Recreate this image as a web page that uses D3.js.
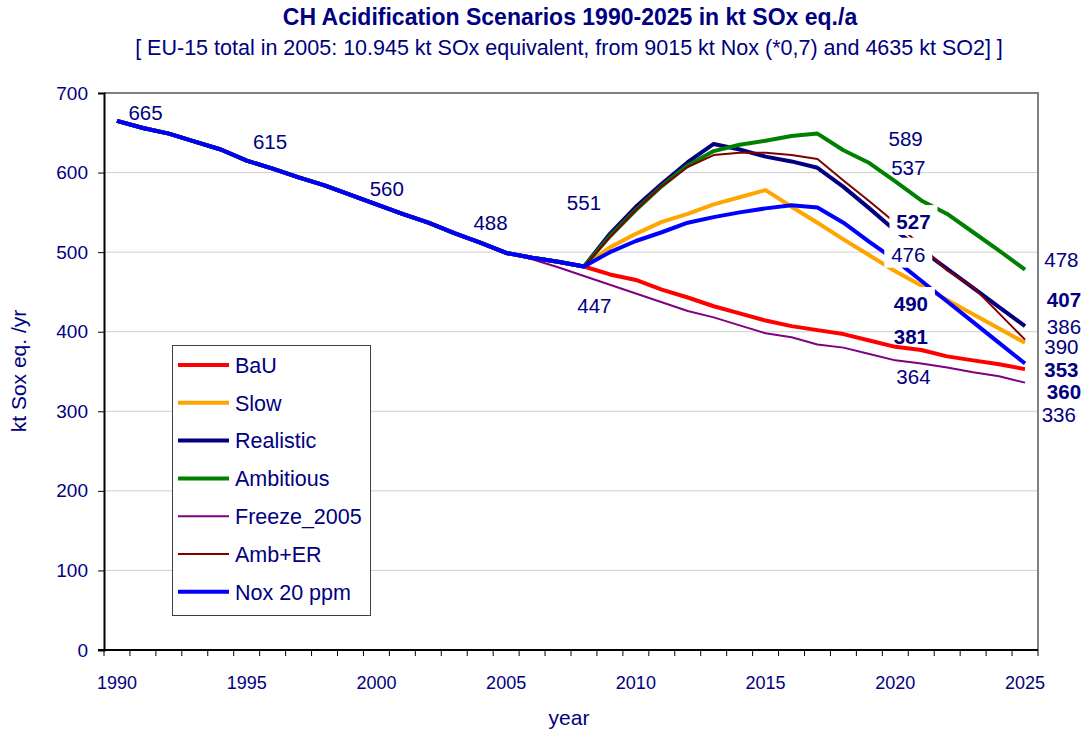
<!DOCTYPE html>
<html>
<head>
<meta charset="utf-8">
<script src="https://cdn.jsdelivr.net/npm/d3@7"></script>
<style>
  body { margin: 0; background: #fff; }
  text { font-family: Arial, "Liberation Sans", sans-serif; fill: #000080; }
</style>
</head>
<body>
<div id="chart"></div>
<script>
// categories (one per year)
var years = d3.range(1990, 2026)
var tickYears = [1990, 1995, 2000, 2005, 2010, 2015, 2020, 2025]
var yTicks = [0, 100, 200, 300, 400, 500, 600, 700]

// shared history 1990-2008
var common = [665, 656, 649, 639, 629, 615, 605, 594, 584, 572, 560, 548, 537, 524, 512, 499, 493, 488, 482]

// scenario values 2009-2025
var bau = [472, 465, 453, 443, 432, 423, 414, 407, 402, 397, 389, 381, 377, 369, 364, 359, 353]
var slow = [506, 523, 538, 548, 560, 569, 578, 557, 537, 516, 496, 476, 458, 440, 422, 404, 386]
var realistic = [523, 557, 586, 613, 636, 629, 620, 614, 606, 582, 555, 527, 503, 479, 455, 431, 407]
var ambitious = [520, 553, 583, 609, 627, 635, 640, 646, 649, 628, 612, 589, 565, 548, 525, 502, 478]
var ambER = [519, 553, 583, 607, 622, 625, 625, 622, 617, 590, 564, 537, 508, 477, 456, 423, 390]
var nox20 = [500, 514, 525, 537, 544, 550, 555, 559, 556, 537, 513, 490, 464, 438, 412, 386, 360]
// freeze leaves the common path after 2005 (values 2006-2025)
var freeze = [491, 481, 470, 459, 448, 437, 426, 418, 408, 398, 393, 384, 380, 372, 364, 360, 355, 349, 344, 336]

var series = [
    { name: "BaU", color: "#ff0000", w: 4, values: common.concat(bau) },
    { name: "Slow", color: "#ffa500", w: 4, values: common.concat(slow) },
    { name: "Realistic", color: "#000080", w: 4, values: common.concat(realistic) },
    { name: "Ambitious", color: "#008000", w: 4, values: common.concat(ambitious) },
    { name: "Freeze_2005", color: "#800080", w: 2, values: common.slice(0, 16).concat(freeze) },
    { name: "Amb+ER", color: "#800000", w: 2, values: common.concat(ambER) },
    { name: "Nox 20 ppm", color: "#0000ff", w: 4, values: common.concat(nox20) }
]

// value labels written on the chart: text, year, value position, bold, white box
var labels = [
    ["665", 1991.1, 666, false, false],
    ["615", 1995.9, 629, false, false],
    ["560", 2000.4, 570, false, false],
    ["488", 2004.4, 528, false, false],
    ["551", 2008.0, 553, false, false],
    ["447", 2008.4, 424, false, false],
    ["589", 2020.4, 634, false, false],
    ["537", 2020.5, 597, false, false],
    ["527", 2020.7, 529, true, true],
    ["476", 2020.5, 488, false, true],
    ["490", 2020.6, 426, true, true],
    ["381", 2020.6, 384, true, false],
    ["364", 2020.7, 334, false, false],
    ["478", 2026.4, 481, false, false],
    ["407", 2026.5, 431, true, false],
    ["386", 2026.5, 397, false, false],
    ["390", 2026.4, 372, false, false],
    ["353", 2026.4, 343, true, false],
    ["360", 2026.5, 315, true, false],
    ["336", 2026.3, 286, false, false]
]

var W = 1083, H = 729
var margin = { top: 93, right: 45, bottom: 79, left: 104 }

var svg = d3.select("#chart")
    .append("svg")
    .attr("width", W)
    .attr("height", H)

var x = d3.scaleBand()
    .domain(years)
    .range([margin.left, W - margin.right])
    .padding(0)

var y = d3.scaleLinear()
    .domain([0, 700])
    .range([H - margin.bottom, margin.top])

var bw = x.bandwidth()
function cx(yr) { return x(years[0]) + (yr - years[0] + 0.5) * bw }

// gridlines
svg.append("g")
    .selectAll("line")
    .data(yTicks.slice(1, -1))
    .enter()
    .append("line")
    .attr("x1", margin.left)
    .attr("x2", W - margin.right)
    .attr("y1", d => y(d))
    .attr("y2", d => y(d))
    .attr("stroke", "#cfcfcf")
    .attr("stroke-width", 1)

// plot border (top + right)
svg.append("path")
    .attr("d", "M" + margin.left + "," + y(700) + "H" + (W - margin.right) + "V" + y(0))
    .attr("fill", "none")
    .attr("stroke", "#808080")
    .attr("stroke-width", 2)

// y axis
var yAxis = svg.append("g")
    .attr("transform", "translate(" + margin.left + ",0)")
    .call(d3.axisLeft(y).tickValues(yTicks).tickSize(6).tickPadding(10))
yAxis.select(".domain").attr("stroke", "#000").attr("stroke-width", 2)
yAxis.selectAll(".tick line").attr("stroke", "#000")
yAxis.selectAll("text").attr("font-size", 19).attr("fill", "#000080")
    .style("font-family", "Arial, 'Liberation Sans', sans-serif")

// x axis: labels at category centres, ticks on category boundaries
var xAxis = svg.append("g")
    .attr("transform", "translate(0," + y(0) + ")")
    .call(d3.axisBottom(x).tickValues(tickYears).tickSize(0).tickPadding(26))
xAxis.select(".domain").remove()
xAxis.selectAll("text").attr("font-size", 18).attr("fill", "#000080")
    .style("font-family", "Arial, 'Liberation Sans', sans-serif")

svg.append("g")
    .selectAll("line")
    .data(years.concat([2026]))
    .enter()
    .append("line")
    .attr("x1", d => d < 2026 ? x(d) : x(2025) + bw)
    .attr("x2", d => d < 2026 ? x(d) : x(2025) + bw)
    .attr("y1", y(0))
    .attr("y2", y(0) + 6)
    .attr("stroke", "#000")

svg.append("line")
    .attr("x1", margin.left - 6)
    .attr("x2", W - margin.right)
    .attr("y1", y(0))
    .attr("y2", y(0))
    .attr("stroke", "#000")
    .attr("stroke-width", 2)

// lines
var line = d3.line()
    .x((d, i, arr) => cx(years[years.length - arr.length + i]))
    .y(d => y(d))

svg.append("g")
    .selectAll("path")
    .data(series)
    .enter()
    .append("path")
    .attr("d", d => line(d.values))
    .attr("fill", "none")
    .attr("stroke", d => d.color)
    .attr("stroke-width", d => d.w)
    .attr("stroke-linejoin", "round")

// value labels
var lab = svg.append("g")
labels.forEach(function(l) {
    var tx = cx(l[1]), ty = y(l[2])
    if (l[4]) {
        lab.append("rect")
            .attr("x", tx - 24)
            .attr("y", ty - 24)
            .attr("width", 48)
            .attr("height", 30)
            .attr("fill", "#fff")
    }
    lab.append("text")
        .attr("x", tx)
        .attr("y", ty)
        .attr("text-anchor", "middle")
        .attr("font-size", 20.5)
        .attr("font-weight", l[3] ? "bold" : "normal")
        .text(l[0])
})

// legend
var leg = svg.append("g")
leg.append("rect")
    .attr("x", 172.5)
    .attr("y", 345.5)
    .attr("width", 198)
    .attr("height", 270)
    .attr("fill", "#fff")
    .attr("stroke", "#404040")
    .attr("stroke-width", 1)

series.forEach(function(s, i) {
    var ly = 365 + i * 37.8
    leg.append("line")
        .attr("x1", 178)
        .attr("x2", 229)
        .attr("y1", ly)
        .attr("y2", ly)
        .attr("stroke", s.color)
        .attr("stroke-width", s.w)
    leg.append("text")
        .attr("x", 235)
        .attr("y", ly)
        .attr("dy", "0.36em")
        .attr("font-size", 21.5)
        .text(s.name)
})

// titles
svg.append("text")
    .attr("x", 570)
    .attr("y", 25)
    .attr("text-anchor", "middle")
    .attr("font-size", 23)
    .attr("font-weight", "bold")
    .text("CH Acidification Scenarios 1990-2025 in kt SOx eq./a")

svg.append("text")
    .attr("x", 569)
    .attr("y", 55)
    .attr("text-anchor", "middle")
    .attr("font-size", 21.5)
    .text("[ EU-15 total in 2005: 10.945 kt SOx equivalent, from 9015 kt Nox (*0,7) and 4635 kt SO2] ]")

svg.append("text")
    .attr("transform", "translate(26,371) rotate(-90)")
    .attr("text-anchor", "middle")
    .attr("font-size", 21)
    .text("kt Sox eq. /yr")

svg.append("text")
    .attr("x", 569)
    .attr("y", 725)
    .attr("text-anchor", "middle")
    .attr("font-size", 21)
    .text("year")
</script>
</body>
</html>
